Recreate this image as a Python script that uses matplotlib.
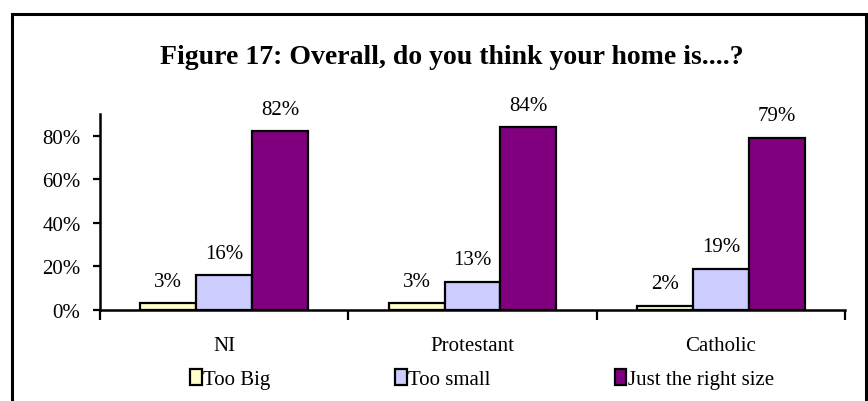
import numpy as np
import matplotlib
matplotlib.use('Agg')
from matplotlib import pyplot as plt
from matplotlib.patches import Rectangle

categories = ['NI', 'Protestant', 'Catholic']
series_names = ['Too Big', 'Too small', 'Just the right size']
too_big = [3, 3, 2]
too_small = [16, 13, 19]
just_right = [82, 84, 79]
y_ticks = [0, 20, 40, 60, 80]
y_tick_labels = ['0%', '20%', '40%', '60%', '80%']

colours = ['#FFFFCC', '#CCCCFF', '#800080']

plt.rcParams['font.family'] = ['Liberation Serif', 'DejaVu Serif']


def main():
    fig = plt.figure(figsize=(8.68, 4.02), dpi=100)
    ax = fig.add_axes([100 / 868, 1 - 311 / 402, 745 / 868, 196 / 402])

    # chart-area border, running off the bottom of the image
    fig.patches.append(Rectangle((12 / 868, -0.05), 854 / 868, 1.05 - 15 / 402,
                                 transform=fig.transFigure, fill=False,
                                 edgecolor='black', linewidth=2.2))

    x = np.arange(len(categories))
    width = 0.225
    for i, (vals, name) in enumerate(zip([too_big, too_small, just_right], series_names)):
        bars = ax.bar(x + (i - 1) * width, vals, width, color=colours[i],
                      edgecolor='black', linewidth=1.6, label=name)
        for b, v in zip(bars, vals):
            ax.annotate(f'{v}%', (b.get_x() + b.get_width() / 2, b.get_height()),
                        xytext=(0, 9), textcoords='offset points',
                        ha='center', va='bottom', fontsize=15)

    ax.set_xlim(-0.5, 2.5)
    ax.set_ylim(0, 90)
    ax.set_yticks(y_ticks)
    ax.set_yticklabels(y_tick_labels, fontsize=15)
    ax.set_xticks(x)
    ax.set_xticklabels(categories, fontsize=15)
    ax.set_xticks([-0.5, 0.5, 1.5, 2.5], minor=True)
    ax.tick_params(axis='x', which='major', length=0, pad=19)
    ax.tick_params(axis='x', which='minor', length=7, width=1.6, direction='out')
    ax.tick_params(axis='y', length=5, width=1.6, direction='out', pad=9)

    for side in ['top', 'right']:
        ax.spines[side].set_visible(False)
    ax.spines['left'].set_linewidth(1.8)
    ax.spines['bottom'].set_linewidth(1.8)

    fig.text(452 / 868, 1 - 57 / 402, 'Figure 17: Overall, do you think your home is....?',
             ha='center', va='center', fontsize=20, fontweight='bold')

    fig.legend(loc='center', bbox_to_anchor=(482 / 868, 1 - 380 / 402), ncol=3,
               frameon=False, fontsize=15, handlelength=0.55, handleheight=0.85,
               handletextpad=0.05, columnspacing=6.0)

    fig.savefig('out.png', dpi=100)


if __name__ == '__main__':
    main()
